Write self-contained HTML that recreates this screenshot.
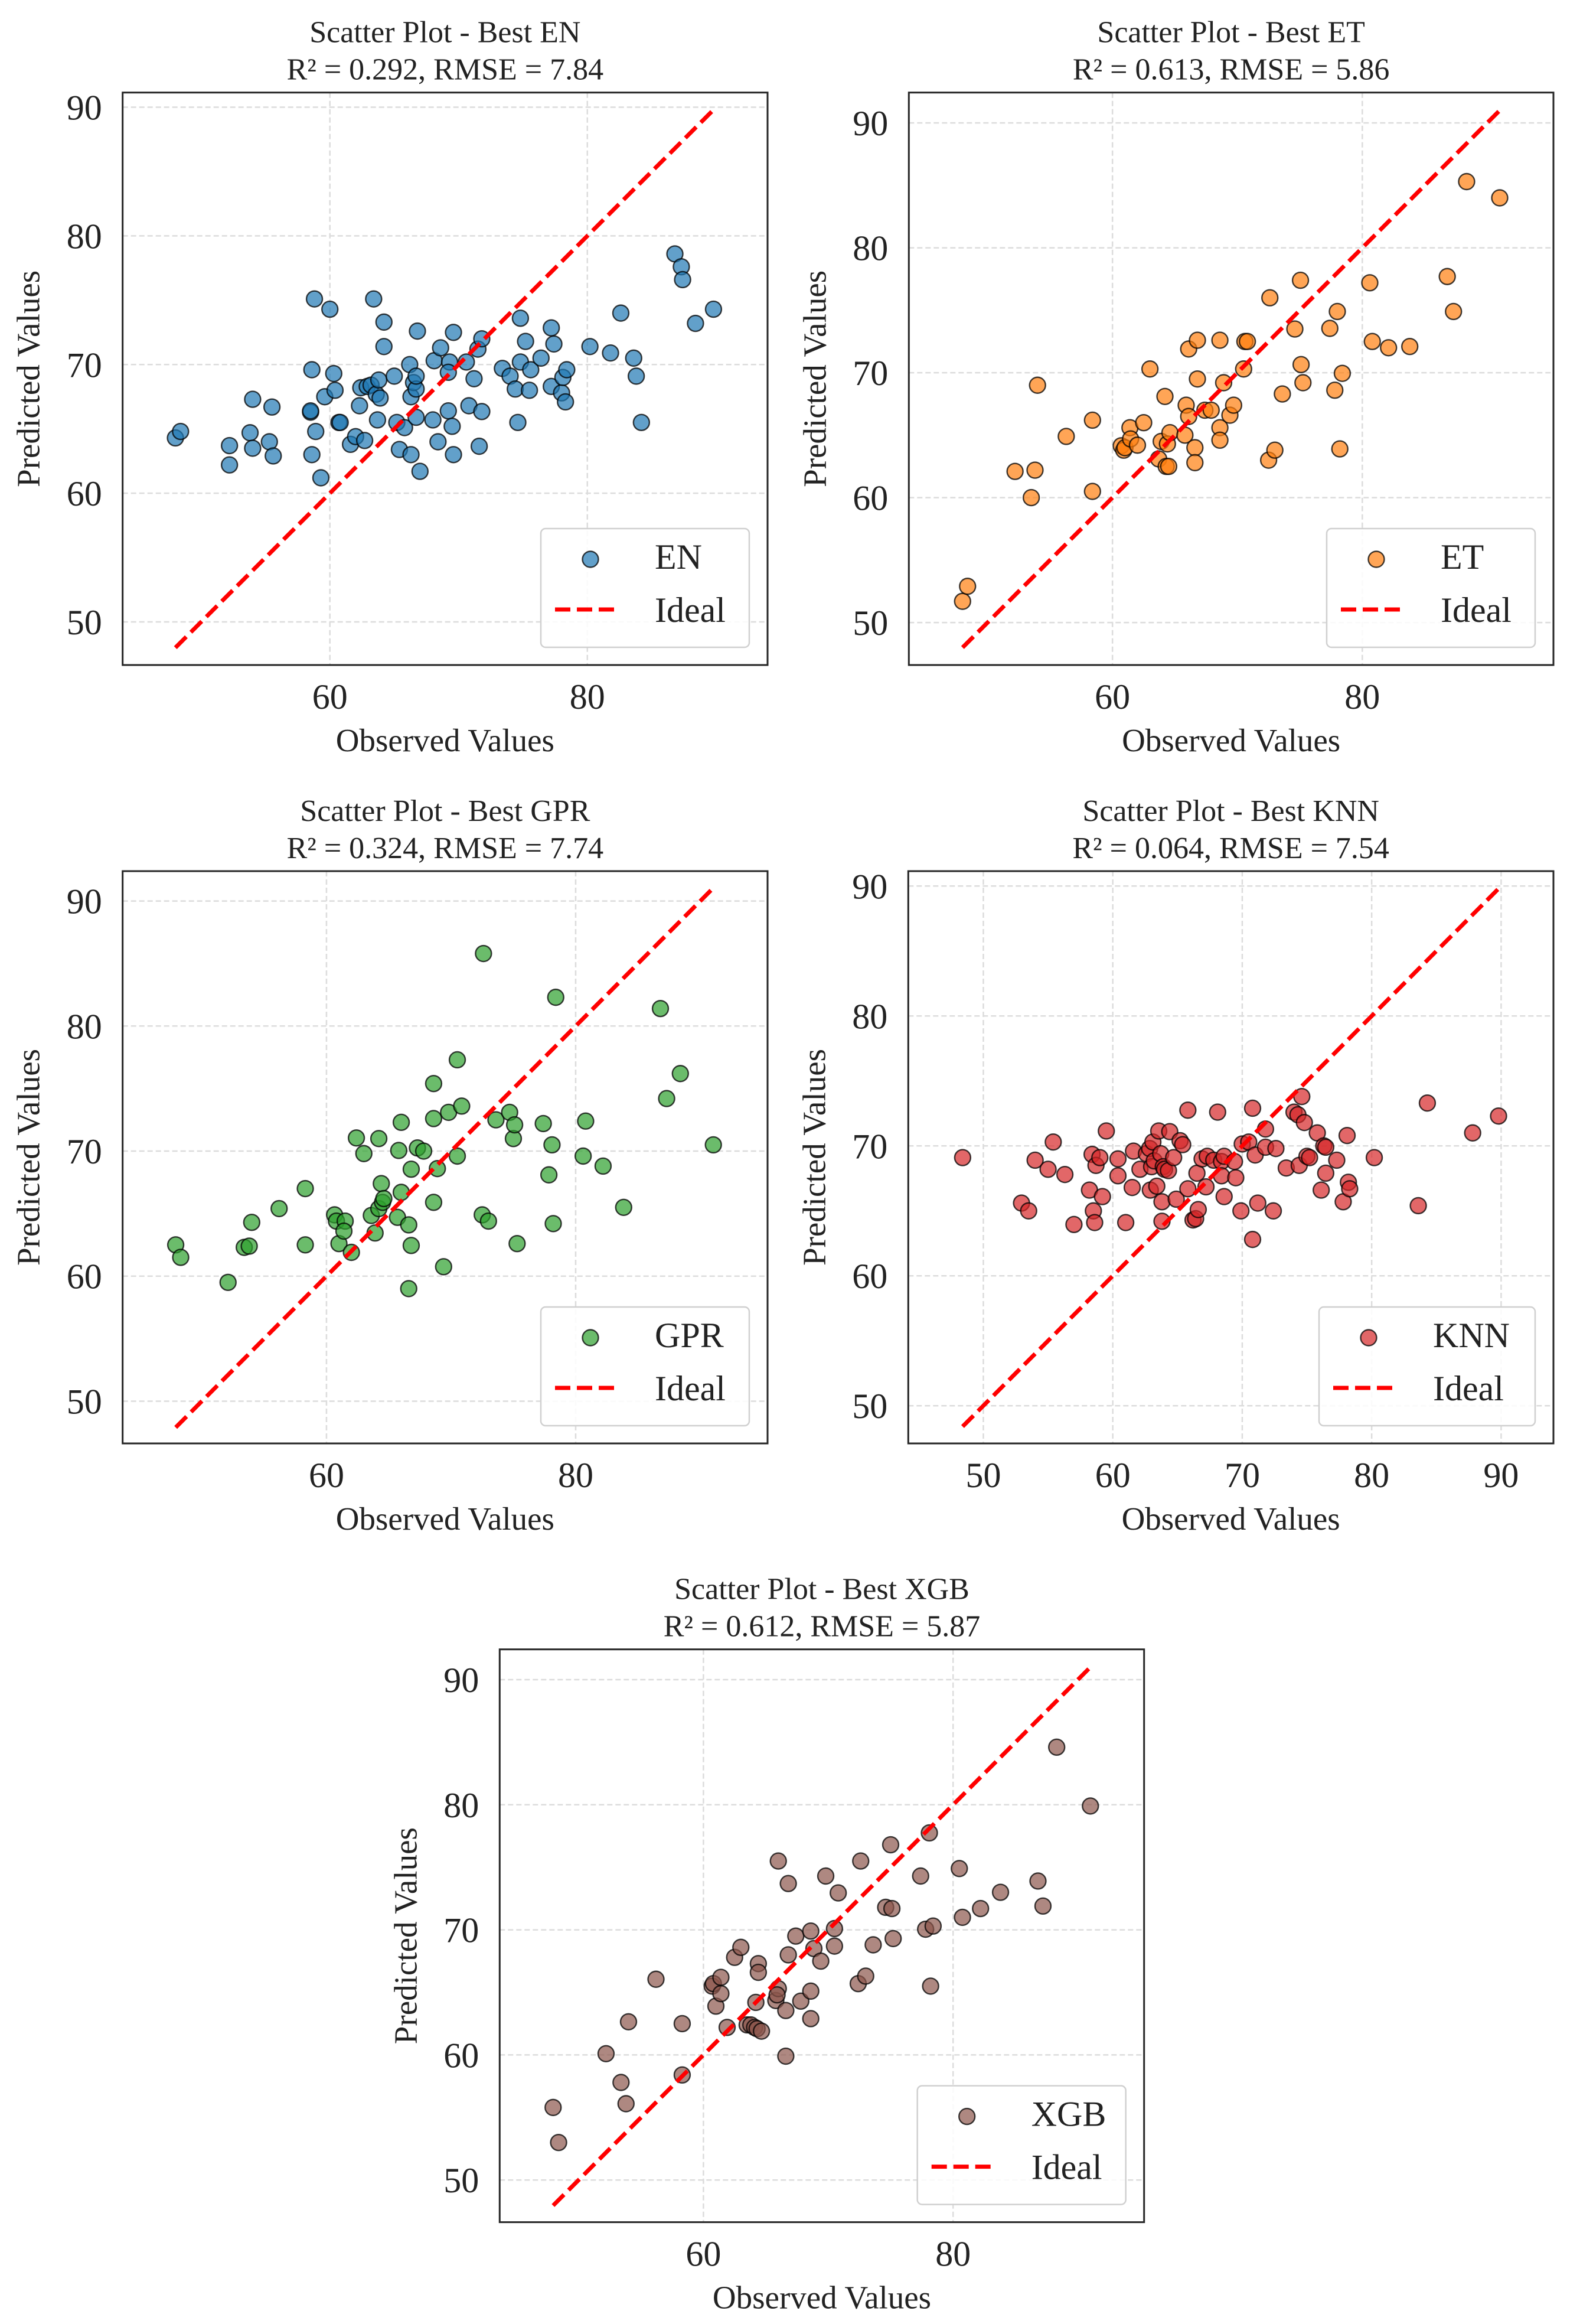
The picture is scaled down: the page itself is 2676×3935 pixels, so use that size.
<!DOCTYPE html>
<html><head><meta charset="utf-8"><style>
html,body{margin:0;padding:0;background:#fff}
svg{display:block}
text{font-family:"Liberation Serif",serif;fill:#222}
</style></head><body>
<svg id="fig" width="2676" height="3935" viewBox="0 0 2676 3935" xmlns="http://www.w3.org/2000/svg">
<rect width="2676" height="3935" fill="#fff"/>
</svg>
<script>
const enObs=[48.0,48.4,52.2,52.2,54.0,53.8,54.0,55.3,55.5,55.6,58.8,60.0,58.6,58.5,58.5,58.6,58.9,59.3,59.6,60.3,60.4,60.7,60.8,61.6,62.0,62.3,62.4,62.7,62.9,63.2,63.4,63.6,63.8,63.9,63.7,64.2,64.2,65.0,65.2,65.4,65.8,66.2,66.3,66.3,66.5,66.7,66.7,66.8,66.7,67.0,68.0,68.1,68.4,68.6,69.3,69.2,69.2,69.5,69.6,69.6,70.6,70.8,71.2,71.5,71.8,71.8,71.6,73.4,74.0,74.4,74.6,74.8,74.8,75.2,75.5,75.6,76.4,77.2,77.2,77.4,78.0,78.1,78.3,78.4,80.2,81.8,82.6,83.6,83.8,84.2,86.8,87.3,87.4,88.4,89.8];
const enPred=[64.3,64.8,63.7,62.2,67.3,64.7,63.5,64.0,66.7,62.9,75.1,74.3,69.6,66.3,66.4,63.0,64.8,61.2,67.5,69.3,68.0,65.5,65.5,63.8,64.4,66.8,68.2,64.1,68.3,68.4,75.1,67.7,68.8,67.4,65.7,73.3,71.4,69.1,65.5,63.4,65.1,70.0,67.5,63.0,68.6,68.1,69.1,72.6,65.9,61.7,65.7,70.3,64.0,71.3,70.2,69.4,66.4,65.2,63.0,72.5,70.2,66.8,68.9,71.2,72.0,66.35,63.65,69.7,69.1,68.1,65.5,73.6,70.2,71.8,68.0,69.6,70.5,72.85,68.3,71.6,67.8,69.0,67.1,69.6,71.4,70.9,74.0,70.5,69.1,65.5,78.6,77.6,76.6,73.2,74.3];
const etObs=[48.0,48.4,52.2,53.8,53.5,54.0,56.3,58.4,58.4,60.7,60.9,61.0,61.4,61.45,62.0,62.5,63.0,63.7,63.9,64.2,64.3,64.4,64.5,64.6,65.8,65.9,66.1,66.1,66.6,66.6,66.8,66.8,67.4,67.9,68.6,68.6,68.6,68.9,69.4,69.7,70.5,70.6,70.8,72.5,72.6,73.0,73.6,74.6,75.05,75.1,75.25,77.4,77.8,78.0,78.2,78.4,80.6,80.8,82.1,83.8,86.8,87.3,88.35,91.0];
const etPred=[51.7,52.9,62.1,62.2,60.0,69.0,64.9,66.2,60.5,64.15,63.8,64.0,65.6,64.7,64.2,66.0,70.3,63.1,64.5,68.1,62.5,64.3,62.5,65.2,65.0,67.4,66.5,71.9,64.0,62.8,72.6,69.5,67.0,67.0,72.6,65.6,64.6,69.2,66.6,67.4,70.3,72.5,72.5,63.0,76.0,63.8,68.3,73.5,77.4,70.65,69.2,73.55,68.6,74.9,63.9,69.95,77.2,72.5,72.0,72.1,77.7,74.9,85.3,84.0];
const gprObs=[47.9,48.3,52.1,53.4,53.8,54.0,56.2,58.3,58.3,60.65,60.8,61.5,61.0,61.4,62.0,62.4,63.0,63.6,63.9,64.2,64.2,64.4,64.5,64.6,65.7,65.8,66.0,66.0,66.6,66.8,66.8,66.6,67.3,67.8,68.6,68.6,68.6,68.9,69.4,69.8,70.5,70.5,70.85,72.5,72.6,73.0,73.6,74.7,75.0,75.1,75.3,77.4,77.85,78.1,78.2,78.4,80.6,80.8,82.2,83.85,86.8,87.3,88.4,91.05];
const gprPred=[62.5,61.5,59.5,62.3,62.4,64.3,65.4,67.0,62.5,64.9,64.4,64.4,62.6,63.6,61.9,71.05,69.8,64.85,63.45,71.0,65.4,67.4,65.9,66.2,64.7,70.05,66.7,72.3,64.1,68.55,62.45,59.0,70.25,70.0,75.4,72.6,65.9,68.6,60.75,73.1,77.3,69.6,73.6,64.9,85.8,64.4,72.5,73.1,71.0,72.1,62.6,72.2,68.1,70.5,64.2,82.3,69.6,72.4,68.8,65.5,81.4,74.2,76.2,70.5];
const knnObs=[48.4,52.95,53.5,54.0,55.0,55.4,56.3,57.0,58.2,58.4,58.5,58.6,58.7,59.0,59.2,59.5,60.4,60.4,61.0,61.5,61.6,62.1,62.6,62.85,62.9,63.0,63.1,63.2,63.4,63.55,63.7,63.8,63.9,64.0,63.8,64.3,64.4,64.7,64.9,65.2,65.4,65.8,65.8,66.2,66.4,66.5,66.6,66.9,67.2,67.3,67.8,68.1,68.4,68.4,68.6,68.6,69.4,69.5,69.9,70.0,70.5,70.8,71.0,71.2,71.8,71.8,72.4,72.6,70.8,73.4,74.0,74.3,74.4,74.6,74.8,75.0,75.2,75.8,76.1,76.3,76.45,76.45,77.3,77.8,78.1,78.2,78.3,80.2,83.6,84.3,87.8,89.8];
const knnPred=[69.1,65.6,65.0,68.9,68.2,70.3,67.8,63.95,66.6,69.35,65.0,64.1,68.5,69.1,66.1,71.15,69.0,67.7,64.1,66.8,69.6,68.2,69.4,69.8,66.6,68.4,70.3,68.85,66.9,71.15,69.4,65.7,68.4,68.2,64.2,68.1,71.1,69.1,65.9,70.4,70.1,72.75,66.7,64.3,64.4,67.9,65.1,69.0,66.85,69.2,68.9,72.6,68.8,67.7,69.2,66.1,68.8,67.55,65.0,70.15,70.3,72.9,69.3,65.6,71.3,69.9,65.0,69.8,62.8,68.3,72.6,72.4,68.5,73.8,71.8,69.2,69.1,71.0,66.6,70.0,67.9,69.9,68.9,65.7,70.8,67.2,66.7,69.1,65.4,73.3,71.0,72.3];
const xgbObs=[47.96,48.4,52.2,53.4,53.8,54.0,56.2,58.3,58.3,60.7,60.8,61.0,61.4,61.4,61.9,62.5,63.0,63.5,63.8,64.1,64.3,64.2,64.4,64.4,64.65,65.8,66.0,65.9,66.0,66.6,66.6,66.8,66.8,67.4,67.8,68.6,68.6,68.6,68.85,69.4,69.8,70.5,70.5,70.8,72.4,72.6,73.0,73.6,74.6,75.0,75.1,75.2,77.4,77.8,78.1,78.2,78.4,80.5,80.75,82.2,83.8,86.8,87.2,88.3,91.0];
const xgbPred=[55.8,53.0,60.1,57.8,56.1,62.65,66.05,62.5,58.4,65.5,65.7,63.9,66.2,64.9,62.2,67.8,68.6,62.4,62.4,62.2,62.1,64.2,67.3,66.6,61.9,64.35,65.3,64.8,75.5,63.55,59.9,73.7,68.0,69.5,64.3,69.9,62.9,65.1,68.5,67.5,74.3,70.1,68.7,72.95,65.7,75.5,66.3,68.8,71.8,76.8,71.7,69.3,74.3,70.05,77.75,65.5,70.3,74.9,71.0,71.7,73.0,73.9,71.9,84.6,79.9];
const yTicks=[50,60,70,80,90];
const xTicksA=[60,80];
const xTicksKnn=[50,60,70,80,90];
const titles=["Scatter Plot - Best EN","Scatter Plot - Best ET","Scatter Plot - Best GPR","Scatter Plot - Best KNN","Scatter Plot - Best XGB"];
const subtitles=["R² = 0.292, RMSE = 7.84","R² = 0.613, RMSE = 5.86","R² = 0.324, RMSE = 7.74","R² = 0.064, RMSE = 7.54","R² = 0.612, RMSE = 5.87"];
const names=["EN","ET","GPR","KNN","XGB"];

const NS="http://www.w3.org/2000/svg";
const fig=document.getElementById('fig');
function mk(tag,attrs,parent){const e=document.createElementNS(NS,tag);for(const k in attrs)e.setAttribute(k,attrs[k]);(parent||fig).appendChild(e);return e;}

const panels=[
 {key:'en',obs:enObs,pred:enPred,col:'#1f77b4',box:[207.7,156.7,1300,1126],xl:[43.9,94.0],yl:[46.65,91.14],xt:xTicksA},
 {key:'et',obs:etObs,pred:etPred,col:'#ff7f0e',box:[1539.3,156.7,2631,1126],xl:[43.7,95.3],yl:[46.6,92.43],xt:xTicksA},
 {key:'gpr',obs:gprObs,pred:gprPred,col:'#2ca02c',box:[207.7,1475,1300,2444],xl:[43.64,95.4],yl:[46.62,92.39],xt:xTicksA},
 {key:'knn',obs:knnObs,pred:knnPred,col:'#d62728',box:[1538.3,1475,2631,2444],xl:[44.2,94.04],yl:[47.1,91.15],xt:xTicksKnn},
 {key:'xgb',obs:xgbObs,pred:xgbPred,col:'#8c564b',box:[846.3,2792.7,1937.7,3762.6],xl:[43.68,95.3],yl:[46.63,92.42],xt:xTicksA}
];

panels.forEach((p,i)=>{
  const [L,T,R,B]=p.box;
  const sx=v=>L+(v-p.xl[0])/(p.xl[1]-p.xl[0])*(R-L);
  const sy=v=>B-(v-p.yl[0])/(p.yl[1]-p.yl[0])*(B-T);
  const g=mk('g',{});
  
  
  p.xt.forEach(t=>{const l=mk('line',{x1:sx(t),x2:sx(t),y1:T,y2:B,stroke:'#dcdcdc','stroke-width':2.5,'stroke-dasharray':'9,5'},g);
    });
  yTicks.forEach(t=>{const l=mk('line',{x1:L,x2:R,y1:sy(t),y2:sy(t),stroke:'#dcdcdc','stroke-width':2.5,'stroke-dasharray':'9,5'},g);
    });
  p.obs.forEach((v,j)=>{const c=mk('circle',{cx:sx(v),cy:sy(p.pred[j]),r:13.5,fill:p.col,'fill-opacity':0.7,stroke:'#000','stroke-opacity':0.75,'stroke-width':2.4},g);
    });
  const mn=Math.min(...p.obs),mx=Math.max(...p.obs);
  const il=mk('line',{x1:sx(mn),y1:sy(mn),x2:sx(mx),y2:sy(mx),stroke:'#ff0000','stroke-width':7,'stroke-dasharray':'26,11'},g);
  
  const fr=mk('rect',{x:L,y:T,width:R-L,height:B-T,fill:'none',stroke:'#262626','stroke-width':3},g);
  
  p.xt.forEach(t=>{const tx=mk('text',{x:sx(t),y:B+74,'font-size':60,'text-anchor':'middle'},g);tx.textContent=t;
    });
  yTicks.forEach(t=>{const tx=mk('text',{x:L-35,y:sy(t)+21,'font-size':60,'text-anchor':'end'},g);tx.textContent=t;
    });
  const xl=mk('text',{x:(L+R)/2,y:B+146,'font-size':55,'text-anchor':'middle'},g);xl.textContent='Observed Values';
  
  const yx=L-141,yy=(T+B)/2;
  const yl=mk('text',{x:yx,y:yy,'font-size':55,'text-anchor':'middle',transform:`rotate(-90 ${yx} ${yy})`},g);yl.textContent='Predicted Values';
  
  const t1=mk('text',{x:(L+R)/2,y:T-85,'font-size':52,'text-anchor':'middle'},g);t1.textContent=titles[i];
  
  const t2=mk('text',{x:(L+R)/2,y:T-22,'font-size':52,'text-anchor':'middle'},g);t2.textContent=subtitles[i];
  
  const lw=[353,353,353,366,353][i];
  const lx=R-31-lw,ly=B-30-201;
  const lg=mk('g',{},g);
  
  mk('rect',{x:lx,y:ly,width:lw,height:201,rx:8,fill:'#fff','fill-opacity':0.85,stroke:'#d0d0d0','stroke-width':2.5},lg);
  const mc=mk('circle',{cx:lx+84,cy:ly+52,r:13.5,fill:p.col,'fill-opacity':0.7,stroke:'#000','stroke-opacity':0.75,'stroke-width':2.4},lg);
  
  const lt=mk('text',{x:lx+193,y:ly+68,'font-size':60},lg);lt.textContent=names[i];
  
  const ll=mk('line',{x1:lx+24,x2:lx+134,y1:ly+137,y2:ly+137,stroke:'#ff0000','stroke-width':7,'stroke-dasharray':'26,11'},lg);
  
  const lt2=mk('text',{x:lx+193,y:ly+158,'font-size':60},lg);lt2.textContent='Ideal';
  
});
</script>
</body></html>
